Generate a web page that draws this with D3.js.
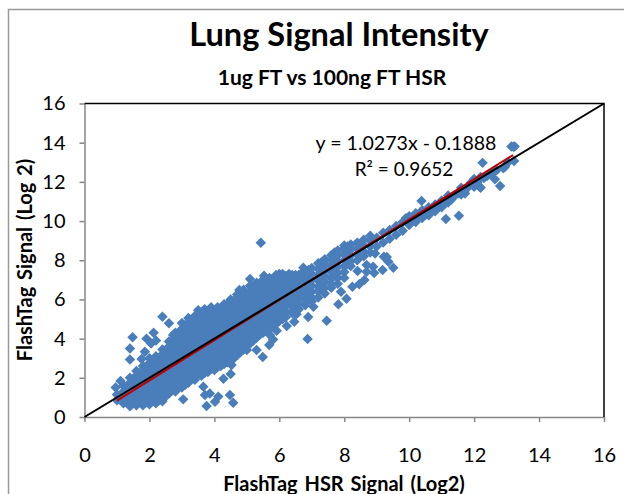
<!DOCTYPE html>
<html>
<head>
<meta charset="utf-8">
<script src="https://cdn.jsdelivr.net/npm/d3@7"></script>
<style>
  body { margin: 0; background: #fff; }
  text { font-family: Lato, "Open Sans", sans-serif; fill: #000; }
</style>
</head>
<body>
<div id="chart"></div>
<script>
// data
const xTicks = [0, 2, 4, 6, 8, 10, 12, 14, 16];
const yTicks = [0, 2, 4, 6, 8, 10, 12, 14, 16];

// dense part of the cloud: one x per column, with the y values seen in that column
const cloudX = [1.0, 1.2, 1.4, 1.6, 1.8, 2.0, 2.2, 2.4, 2.6, 2.8, 3.0, 3.2, 3.4, 3.6, 3.8, 4.0, 4.2, 4.4, 4.6, 4.8, 5.0, 5.2, 5.4, 5.6, 5.8, 6.0, 6.2, 6.4, 6.6, 6.8, 7.0, 7.2, 7.4, 7.6, 7.8, 8.0, 8.2, 8.4, 8.6, 8.8];
const cloudY = [
  [0.85, 1.15],
  [0.7, 1.0, 1.3, 1.6],
  [0.55, 0.85, 1.15, 1.45, 1.75, 2.0],
  [0.6, 0.9, 1.2, 1.5, 1.8, 2.1, 2.35],
  [0.6, 0.85, 1.15, 1.45, 1.75, 2.05, 2.35, 2.6],
  [0.65, 0.95, 1.25, 1.55, 1.85, 2.15, 2.45, 2.75, 3.0],
  [0.7, 1.0, 1.3, 1.6, 1.9, 2.2, 2.5, 2.8, 3.1],
  [0.8, 1.1, 1.4, 1.7, 2.0, 2.3, 2.6, 2.9, 3.2, 3.45],
  [1.2, 1.5, 1.8, 2.1, 2.4, 2.7, 3.0, 3.3, 3.6, 3.85],
  [1.3, 1.65, 1.95, 2.25, 2.55, 2.85, 3.15, 3.45, 3.75, 4.05, 4.3],
  [1.5, 1.8, 2.1, 2.4, 2.7, 3.0, 3.3, 3.6, 3.9, 4.2, 4.5, 4.8],
  [1.75, 2.05, 2.35, 2.65, 2.95, 3.25, 3.55, 3.85, 4.15, 4.45, 4.75, 5.05],
  [1.9, 2.2, 2.5, 2.8, 3.1, 3.4, 3.7, 4.0, 4.3, 4.6, 4.9, 5.15],
  [2.1, 2.35, 2.65, 2.95, 3.25, 3.55, 3.85, 4.15, 4.45, 4.75, 5.05, 5.35],
  [2.3, 2.6, 2.9, 3.2, 3.5, 3.8, 4.1, 4.4, 4.7, 5.0, 5.3],
  [2.4, 2.7, 3.0, 3.3, 3.6, 3.9, 4.2, 4.5, 4.8, 5.1, 5.4],
  [2.6, 2.9, 3.2, 3.5, 3.8, 4.1, 4.4, 4.7, 5.0, 5.3, 5.55],
  [2.8, 3.05, 3.35, 3.65, 3.95, 4.25, 4.55, 4.85, 5.15, 5.45, 5.75],
  [3.0, 3.3, 3.6, 3.9, 4.2, 4.5, 4.8, 5.1, 5.4, 5.7, 5.95],
  [3.3, 3.55, 3.85, 4.15, 4.45, 4.75, 5.05, 5.35, 5.65, 5.95, 6.2],
  [3.6, 3.9, 4.2, 4.5, 4.8, 5.1, 5.4, 5.7, 6.0, 6.3],
  [3.9, 4.15, 4.45, 4.75, 5.05, 5.35, 5.65, 5.95, 6.25, 6.5],
  [4.2, 4.5, 4.8, 5.1, 5.4, 5.7, 6.0, 6.3, 6.6],
  [4.4, 4.7, 5.0, 5.3, 5.6, 5.9, 6.2, 6.5, 6.8],
  [4.6, 4.9, 5.2, 5.5, 5.8, 6.1, 6.4, 6.7, 7.0],
  [4.9, 5.2, 5.5, 5.8, 6.1, 6.4, 6.7, 7.0, 7.3],
  [5.1, 5.4, 5.7, 6.0, 6.3, 6.6, 6.9, 7.2],
  [5.6, 5.85, 6.15, 6.45, 6.75, 7.05, 7.25],
  [5.8, 6.1, 6.4, 6.7, 7.0, 7.25],
  [6.0, 6.25, 6.55, 6.85, 7.15, 7.4],
  [6.1, 6.4, 6.7, 7.0, 7.3, 7.6],
  [6.4, 6.65, 6.95, 7.25, 7.55, 7.85],
  [6.6, 6.9, 7.2, 7.5, 7.8, 8.05],
  [6.8, 7.1, 7.4, 7.7, 8.0, 8.25],
  [7.1, 7.35, 7.65, 7.95, 8.25, 8.5],
  [7.4, 7.7, 8.0, 8.3, 8.6, 8.75],
  [7.7, 7.95, 8.25, 8.55, 8.8],
  [8.0, 8.3, 8.6, 8.9],
  [8.2, 8.45, 8.75, 9.05],
  [8.4, 8.7, 9.0, 9.25]
];

// in-between columns, where the cloud has no white showing through
const fillX = [1.3, 1.5, 1.7, 1.9, 2.1, 2.3, 2.5, 2.7, 2.9, 3.1, 3.3, 3.5, 3.7, 3.9, 4.1, 4.3, 4.5, 4.7, 4.9, 5.1, 5.3, 5.5, 5.7, 5.9, 6.1, 6.5, 6.9, 7.3, 7.7, 8.1, 8.5];
const fillY = [
  [0.8, 1.1, 1.4],
  [0.7, 1.0, 1.3, 1.6, 1.95],
  [0.75, 1.05, 1.35, 1.65, 1.95, 2.25],
  [0.75, 1.0, 1.3, 1.6, 1.9, 2.2, 2.5],
  [0.8, 1.1, 1.4, 1.7, 2.0, 2.3, 2.6, 2.9],
  [0.85, 1.15, 1.45, 1.75, 2.05, 2.35, 2.65, 2.95],
  [1.05, 1.35, 1.65, 1.95, 2.25, 2.55, 2.85, 3.15],
  [1.35, 1.7, 2.0, 2.3, 2.6, 2.9, 3.2, 3.5, 3.8],
  [1.5, 1.8, 2.1, 2.4, 2.7, 3.0, 3.3, 3.6, 3.9, 4.3],
  [1.65, 1.95, 2.25, 2.55, 2.85, 3.15, 3.45, 3.75, 4.05, 4.35, 4.7],
  [1.95, 2.25, 2.55, 2.85, 3.15, 3.45, 3.75, 4.05, 4.35, 4.65, 4.95],
  [2.2, 2.5, 2.8, 3.1, 3.4, 3.7, 4.0, 4.3, 4.6, 4.9, 5.2, 5.45],
  [2.25, 2.5, 2.8, 3.05, 3.35, 3.65, 3.95, 4.25, 4.55, 4.85, 5.15, 5.5],
  [2.45, 2.75, 3.05, 3.35, 3.65, 3.95, 4.25, 4.55, 4.85, 5.15, 5.45, 5.6],
  [2.55, 2.85, 3.15, 3.45, 3.75, 4.05, 4.35, 4.65, 4.95, 5.25, 5.6],
  [2.7, 3.0, 3.3, 3.6, 3.9, 4.2, 4.5, 4.8, 5.1, 5.4, 5.75],
  [2.95, 3.2, 3.5, 3.8, 4.1, 4.4, 4.7, 5.0, 5.3, 5.6, 6.0],
  [3.15, 3.45, 3.7, 4.0, 4.3, 4.6, 4.9, 5.2, 5.5, 5.8, 6.25],
  [3.45, 3.75, 4.05, 4.35, 4.65, 4.95, 5.25, 5.55, 5.85, 6.15, 6.5],
  [3.75, 4.0, 4.3, 4.6, 4.9, 5.2, 5.5, 5.8, 6.1, 6.4, 6.7],
  [4.05, 4.35, 4.65, 4.95, 5.25, 5.55, 5.85, 6.15, 6.45, 6.85],
  [4.3, 4.6, 4.9, 5.2, 5.5, 5.8, 6.1, 6.4, 6.7, 7.0],
  [4.5, 4.8, 5.1, 5.4, 5.7, 6.0, 6.3, 6.6, 6.9, 7.1],
  [4.75, 5.05, 5.35, 5.65, 5.95, 6.25, 6.55, 6.85, 7.25],
  [5.0, 5.3, 5.6, 5.9, 6.2, 6.5, 6.8, 7.1, 7.3],
  [5.7, 6.0, 6.3, 6.6, 6.9, 7.15],
  [6.0, 6.3, 6.55, 6.85, 7.15, 7.45],
  [6.7, 7.0, 7.3, 7.6, 7.9],
  [7.2, 7.5, 7.8, 8.1, 8.4],
  [7.8, 8.1, 8.4, 8.7],
  [8.2, 8.5, 8.8]
];

// lower edge of the cloud from x = 6.4 up, and the top of its hump
const edgeX = [6.4, 6.6, 6.8, 7.0, 7.2, 7.4, 7.6, 7.8, 8.0, 6.3, 6.5, 6.7, 6.9];
const edgeY = [5.3, 5.5, 5.7, 5.9, 6.1, 6.3, 6.6, 6.8, 7.1, 7.3, 7.25, 7.35, 7.5];

// upper thin part of the cloud, and the loose points around it
const spineX = [9.0, 9.0, 9.2, 9.2, 9.4, 9.4, 9.6, 9.6, 9.8, 9.8, 9.9, 10.0, 10.0, 10.1, 10.2, 10.2, 10.3, 10.4, 10.4, 10.5, 10.6, 10.6, 10.7, 10.8, 10.8, 10.9, 11.0, 11.0, 11.1, 11.2, 11.2, 11.3, 11.4, 11.5, 11.6, 11.6, 11.7, 11.8, 11.9, 12.0, 12.0, 12.1, 12.2, 12.2, 12.3, 12.4, 12.5, 12.6, 12.7, 12.9, 13.05, 13.15, 13.25];
const spineY = [8.7, 9.15, 8.9, 9.4, 9.1, 9.55, 9.3, 9.75, 9.5, 9.95, 10.15, 9.8, 10.25, 10.05, 9.95, 10.4, 10.2, 10.15, 10.55, 10.35, 10.3, 10.7, 10.5, 10.5, 10.85, 10.7, 10.7, 11.05, 10.9, 10.95, 11.3, 11.1, 11.3, 11.4, 11.35, 11.7, 11.55, 11.7, 11.95, 11.75, 12.15, 12.0, 11.7, 12.25, 12.2, 12.3, 12.4, 12.5, 12.6, 12.7, 13.0, 13.8, 13.8];
const looseX = [2.40, 2.60, 1.48, 1.40, 1.40, 1.76, 0.96, 1.11, 3.76, 4.48, 4.58, 4.02, 4.12, 3.71, 3.66, 3.04, 3.86, 5.43, 5.10, 4.77, 5.53, 6.74, 6.87, 7.46, 6.89, 5.49, 5.69, 5.92, 6.23, 6.46, 6.53, 5.71, 5.81, 7.82, 8.07, 7.90, 8.25, 8.46, 8.62, 8.41, 8.69, 8.89, 8.69, 8.92, 9.18, 9.22, 9.36, 9.51, 8.95, 7.05, 5.30, 5.00, 4.53, 13.21, 12.26, 13.23, 12.80, 12.64, 11.72, 11.53, 11.13, 12.17, 10.38, 12.95, 9.31, 1.91, 2.05, 2.13, 2.20, 1.86, 2.73, 4.28, 4.50];
const looseY = [5.12, 4.78, 4.07, 3.50, 2.94, 2.96, 1.50, 1.84, 0.56, 1.12, 0.73, 0.78, 1.04, 1.12, 1.55, 0.90, 1.20, 8.89, 7.04, 6.48, 7.21, 7.62, 3.98, 4.91, 5.10, 3.06, 3.67, 4.40, 4.64, 4.86, 5.25, 4.18, 3.96, 5.75, 6.04, 6.39, 6.65, 6.77, 6.99, 7.45, 7.76, 7.67, 7.41, 7.35, 7.50, 8.18, 7.92, 7.62, 8.35, 5.63, 3.42, 3.42, 2.65, 13.79, 12.97, 13.06, 11.79, 12.13, 11.41, 10.27, 10.10, 11.75, 11.03, 12.77, 8.16, 4.00, 3.75, 4.30, 3.90, 3.33, 4.18, 1.95, 2.20];

// y = 1.0273x - 0.1888 between the ends of the data, and y = x across the plot
const trendX = [1.0, 13.2];
const trendY = [0.84, 13.37];
const identityX = [0, 16];
const identityY = [0, 16];

const width = 624;
const height = 494;
const margins = { top: 103.5, bottom: 77, left: 84.5, right: 20 };

const xScale = d3.scaleLinear().domain([0, 16]).range([margins.left, width - margins.right]);
const yScale = d3.scaleLinear().domain([0, 16]).range([height - margins.bottom, margins.top]);

const points = [];
cloudX.forEach((x, i) => cloudY[i].forEach(y => points.push([x, y])));
fillX.forEach((x, i) => fillY[i].forEach(y => points.push([x, y])));
edgeX.forEach((x, i) => points.push([x, edgeY[i]]));
spineX.forEach((x, i) => points.push([x, spineY[i]]));
looseX.forEach((x, i) => points.push([x, looseY[i]]));

const svg = d3.select('#chart')
  .append('svg')
  .attr('width', width)
  .attr('height', height)
  .style('display', 'block');

// chart area frame, runs off the right and bottom of the picture
svg.append('rect')
  .attr('x', 8.5)
  .attr('y', 9.5)
  .attr('width', width + 20)
  .attr('height', height + 20)
  .attr('fill', '#fff')
  .attr('stroke', '#9a9a9a')
  .attr('stroke-width', 1.5);

// axes
const xAxis = d3.axisBottom(xScale).tickValues(xTicks).tickSize(5).tickSizeOuter(0).tickPadding(26);
const yAxis = d3.axisLeft(yScale).tickValues(yTicks).tickSize(5).tickSizeOuter(0).tickPadding(14);

const gx = svg.append('g').attr('transform', `translate(0,${height - margins.bottom})`).call(xAxis);
const gy = svg.append('g').attr('transform', `translate(${margins.left},0)`).call(yAxis);
[gx, gy].forEach(g => {
  g.selectAll('path, line').attr('stroke', '#868686').attr('stroke-width', 1.5);
  g.selectAll('text').attr('font-size', 20).attr('fill', '#000');
});

// top and right edges of the plot are black
svg.append('path')
  .attr('d', d3.line()([
    [xScale(0), yScale(16)], [xScale(16), yScale(16)], [xScale(16), yScale(0)]
  ]))
  .attr('fill', 'none')
  .attr('stroke', '#000')
  .attr('stroke-width', 1.5);

// points
const diamond = d3.symbol(d3.symbolDiamond2, 70);
svg.selectAll('path.point')
  .data(points)
  .join('path')
  .attr('class', 'point')
  .attr('d', diamond)
  .attr('transform', d => `translate(${xScale(d[0])},${yScale(d[1])})`)
  .attr('fill', '#4a7ebb');

const line = d3.line().x(d => xScale(d[0])).y(d => yScale(d[1]));

// trend line under the y = x line
svg.append('path')
  .attr('d', line(trendX.map((x, i) => [x, trendY[i]])))
  .attr('stroke', '#c00000')
  .attr('stroke-width', 2)
  .attr('fill', 'none');

svg.append('path')
  .attr('d', line(identityX.map((x, i) => [x, identityY[i]])))
  .attr('stroke', '#000')
  .attr('stroke-width', 2)
  .attr('fill', 'none');

// titles
svg.append('text')
  .attr('x', 339).attr('y', 46)
  .attr('text-anchor', 'middle')
  .attr('font-size', 32.6).attr('font-weight', 700)
  .text('Lung Signal Intensity');

svg.append('text')
  .attr('x', 332).attr('y', 85)
  .attr('text-anchor', 'middle')
  .attr('font-size', 21).attr('font-weight', 700)
  .text('1ug FT vs 100ng FT HSR');

svg.append('text')
  .attr('x', 344).attr('y', 491)
  .attr('text-anchor', 'middle')
  .attr('font-size', 20).attr('font-weight', 700)
  .attr('word-spacing', 2)
  .text('FlashTag HSR Signal (Log2)');

svg.append('text')
  .attr('transform', 'translate(32,260) rotate(-90)')
  .attr('text-anchor', 'middle')
  .attr('font-size', 20).attr('font-weight', 700)
  .attr('word-spacing', 2)
  .text('FlashTag Signal (Log 2)');

// trend line label
svg.append('text')
  .attr('x', 406).attr('y', 150)
  .attr('text-anchor', 'middle')
  .attr('font-size', 19.6)
  .text('y = 1.0273x - 0.1888');

svg.append('text')
  .attr('x', 404).attr('y', 176)
  .attr('text-anchor', 'middle')
  .attr('font-size', 19)
  .text('R² = 0.9652');
</script>
</body>
</html>
